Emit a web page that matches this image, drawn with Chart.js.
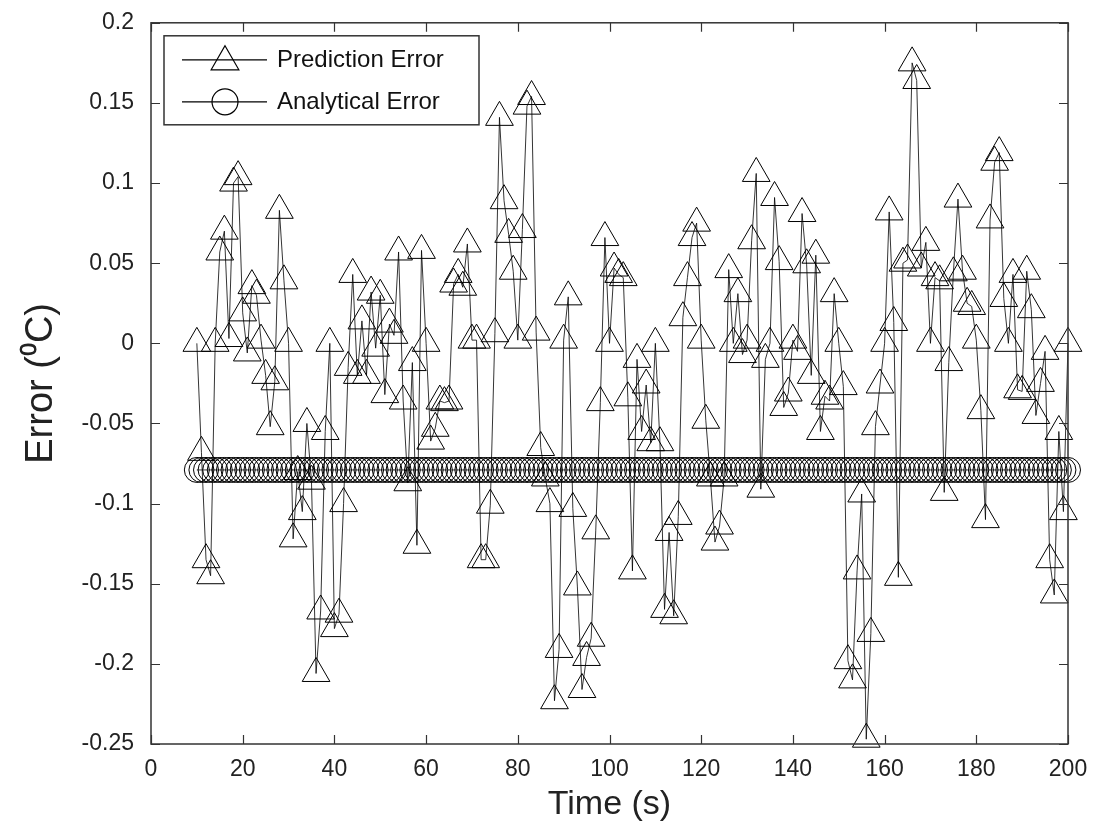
<!DOCTYPE html>
<html lang="en">
<head>
  <meta charset="UTF-8">
  <title>Prediction Error vs Analytical Error</title>
  <script src="https://cdn.jsdelivr.net/npm/chart.js"></script>
  <style>
    html, body { margin: 0; padding: 0; background: #fff; }
    #wrap { width: 1099px; height: 832px; }
  </style>
</head>
<body>
  <div id="wrap"><canvas id="grafik" width="1099" height="832"></canvas></div>

  <script>
    // time stamps (s)
    const times = [
      10, 11, 12, 13, 14, 15, 16, 17, 18, 19,
      20, 21, 22, 23, 24, 25, 26, 27, 28, 29,
      30, 31, 32, 33, 34, 35, 36, 37, 38, 39,
      40, 41, 42, 43, 44, 45, 46, 47, 48, 49,
      50, 51, 52, 53, 54, 55, 56, 57, 58, 59,
      60, 61, 62, 63, 64, 65, 66, 67, 68, 69,
      70, 71, 72, 73, 74, 75, 76, 77, 78, 79,
      80, 81, 82, 83, 84, 85, 86, 87, 88, 89,
      90, 91, 92, 93, 94, 95, 96, 97, 98, 99,
      100, 101, 102, 103, 104, 105, 106, 107, 108, 109,
      110, 111, 112, 113, 114, 115, 116, 117, 118, 119,
      120, 121, 122, 123, 124, 125, 126, 127, 128, 129,
      130, 131, 132, 133, 134, 135, 136, 137, 138, 139,
      140, 141, 142, 143, 144, 145, 146, 147, 148, 149,
      150, 151, 152, 153, 154, 155, 156, 157, 158, 159,
      160, 161, 162, 163, 164, 165, 166, 167, 168, 169,
      170, 171, 172, 173, 174, 175, 176, 177, 178, 179,
      180, 181, 182, 183, 184, 185, 186, 187, 188, 189,
      190, 191, 192, 193, 194, 195, 196, 197, 198, 199,
      200
    ];

    const predictionError = [
      0, -0.068, -0.135, -0.145, 0, 0.057, 0.07, 0.003, 0.1, 0.104,
      0.019, -0.006, 0.036, 0.03, 0.002, -0.02, -0.052, -0.024, 0.083, 0.039,
      0, -0.122, -0.08, -0.105, -0.05, -0.086, -0.206, -0.167, -0.055, 0,
      -0.178, -0.169, -0.1, -0.015, 0.043, -0.02, 0.014, -0.02, 0.032, -0.003,
      0.03, -0.032, 0.012, 0.005, 0.057, -0.036, -0.087, -0.012, -0.126, 0.058,
      0, -0.061, -0.053, -0.036, -0.037, -0.036, 0.037, 0.043, 0.035, 0.062,
      0.002, 0.002, -0.135, -0.135, -0.101, 0.006, 0.141, 0.089, 0.068, 0.045,
      0.002, 0.071, 0.148, 0.154, 0.007, -0.065, -0.084, -0.1, -0.223, -0.191,
      0.002, 0.029, -0.103, -0.152, -0.216, -0.196, -0.184, -0.117, -0.037, 0.066,
      0, 0.047, 0.043, 0.041, -0.034, -0.142, -0.01, -0.055, -0.026, -0.062,
      0, -0.062, -0.166, -0.118, -0.17, -0.108, 0.016, 0.041, 0.066, 0.075,
      0.002, -0.048, -0.084, -0.124, -0.114, -0.084, 0.046, 0, 0.031, -0.007,
      0.002, 0.064, 0.106, -0.091, -0.01, 0, 0.091, 0.051, -0.04, -0.031,
      0.002, -0.005, 0.081, 0.049, -0.02, 0.055, -0.055, -0.033, -0.036, 0.031,
      0, -0.027, -0.198, -0.21, -0.142, -0.094, -0.247, -0.181, -0.052, -0.026,
      0, 0.082, 0.013, -0.146, 0.05, 0.052, 0.175, 0.164, 0.047, 0.063,
      0, 0.041, 0.039, -0.093, -0.012, 0.044, 0.09, 0.045, 0.025, 0.023,
      0.002, -0.042, -0.11, 0.077, 0.113, 0.119, 0.028, 0, 0.043, -0.029,
      -0.03, 0.045, 0.021, -0.045, -0.025, -0.005, -0.135, -0.157, -0.055, -0.105,
      0
    ];

    const analyticalError = [
      -0.079, -0.079, -0.079, -0.079, -0.079, -0.079, -0.079, -0.079, -0.079, -0.079,
      -0.079, -0.079, -0.079, -0.079, -0.079, -0.079, -0.079, -0.079, -0.079, -0.079,
      -0.079, -0.079, -0.079, -0.079, -0.079, -0.079, -0.079, -0.079, -0.079, -0.079,
      -0.079, -0.079, -0.079, -0.079, -0.079, -0.079, -0.079, -0.079, -0.079, -0.079,
      -0.079, -0.079, -0.079, -0.079, -0.079, -0.079, -0.079, -0.079, -0.079, -0.079,
      -0.079, -0.079, -0.079, -0.079, -0.079, -0.079, -0.079, -0.079, -0.079, -0.079,
      -0.079, -0.079, -0.079, -0.079, -0.079, -0.079, -0.079, -0.079, -0.079, -0.079,
      -0.079, -0.079, -0.079, -0.079, -0.079, -0.079, -0.079, -0.079, -0.079, -0.079,
      -0.079, -0.079, -0.079, -0.079, -0.079, -0.079, -0.079, -0.079, -0.079, -0.079,
      -0.079, -0.079, -0.079, -0.079, -0.079, -0.079, -0.079, -0.079, -0.079, -0.079,
      -0.079, -0.079, -0.079, -0.079, -0.079, -0.079, -0.079, -0.079, -0.079, -0.079,
      -0.079, -0.079, -0.079, -0.079, -0.079, -0.079, -0.079, -0.079, -0.079, -0.079,
      -0.079, -0.079, -0.079, -0.079, -0.079, -0.079, -0.079, -0.079, -0.079, -0.079,
      -0.079, -0.079, -0.079, -0.079, -0.079, -0.079, -0.079, -0.079, -0.079, -0.079,
      -0.079, -0.079, -0.079, -0.079, -0.079, -0.079, -0.079, -0.079, -0.079, -0.079,
      -0.079, -0.079, -0.079, -0.079, -0.079, -0.079, -0.079, -0.079, -0.079, -0.079,
      -0.079, -0.079, -0.079, -0.079, -0.079, -0.079, -0.079, -0.079, -0.079, -0.079,
      -0.079, -0.079, -0.079, -0.079, -0.079, -0.079, -0.079, -0.079, -0.079, -0.079,
      -0.079, -0.079, -0.079, -0.079, -0.079, -0.079, -0.079, -0.079, -0.079, -0.079,
      -0.079
    ];

    const xTicks = [0, 20, 40, 60, 80, 100, 120, 140, 160, 180, 200];
    const xTickLabels = ['0', '20', '40', '60', '80', '100', '120', '140', '160', '180', '200'];
    const yTicks = [-0.25, -0.2, -0.15, -0.1, -0.05, 0, 0.05, 0.1, 0.15, 0.2];
    const yTickLabels = ['-0.25', '-0.2', '-0.15', '-0.1', '-0.05', '0', '0.05', '0.1', '0.15', '0.2'];

    const FONT = '"Liberation Sans", Arial, Helvetica, sans-serif';
    const INK = '#000';

    function toPoints(values) {
      return values.map((v, i) => ({ x: times[i], y: v }));
    }

    function marker(ctx, style, x, y, r) {
      ctx.beginPath();
      if (style === 'triangle') {
        ctx.moveTo(x, y - r);
        ctx.lineTo(x + r * Math.sin(Math.PI * 2 / 3), y + r / 2);
        ctx.lineTo(x - r * Math.sin(Math.PI * 2 / 3), y + r / 2);
        ctx.closePath();
      } else {
        ctx.arc(x, y, r, 0, Math.PI * 2);
      }
      ctx.stroke();
    }

    // box round the plot with inward tick marks on all four sides
    const boxTicks = {
      id: 'boxTicks',
      afterDraw(chart) {
        const { ctx, chartArea: a, scales: { x, y } } = chart;
        const len = 9;
        ctx.save();
        ctx.strokeStyle = '#333';
        ctx.lineWidth = 1.5;
        ctx.strokeRect(a.left, a.top, a.right - a.left, a.bottom - a.top);
        ctx.lineWidth = 1.2;
        ctx.beginPath();
        xTicks.forEach(v => {
          const px = Math.round(x.getPixelForValue(v)) + 0.5;
          ctx.moveTo(px, a.bottom); ctx.lineTo(px, a.bottom - len);
          ctx.moveTo(px, a.top); ctx.lineTo(px, a.top + len);
        });
        yTicks.forEach(v => {
          const py = Math.round(y.getPixelForValue(v)) + 0.5;
          ctx.moveTo(a.left, py); ctx.lineTo(a.left + len, py);
          ctx.moveTo(a.right, py); ctx.lineTo(a.right - len, py);
        });
        ctx.stroke();
        ctx.restore();
      }
    };

    // MATLAB style legend: line with the marker in the middle
    const boxLegend = {
      id: 'boxLegend',
      afterDraw(chart) {
        const { ctx, chartArea: a } = chart;
        const left = a.left + 13, top = a.top + 13, w = 315, h = 89;
        ctx.save();
        ctx.fillStyle = '#fff';
        ctx.fillRect(left, top, w, h);
        ctx.strokeStyle = '#333';
        ctx.lineWidth = 1.5;
        ctx.strokeRect(left, top, w, h);
        chart.data.datasets.forEach((ds, i) => {
          const yy = top + 24 + i * 42;
          ctx.strokeStyle = INK;
          ctx.lineWidth = 1.2;
          ctx.beginPath();
          ctx.moveTo(left + 18, yy); ctx.lineTo(left + 103, yy);
          ctx.stroke();
          marker(ctx, ds.pointStyle, left + 61, yy + (ds.pointStyle === 'triangle' ? 2 : 0), ds.pointStyle === 'triangle' ? 16 : 13);
          ctx.fillStyle = '#111';
          ctx.font = '24px ' + FONT;
          ctx.textBaseline = 'middle';
          ctx.fillText(ds.label, left + 113, yy + 1);
        });
        ctx.restore();
      }
    };

    new Chart(document.getElementById('grafik'), {
      type: 'line',
      data: {
        datasets: [
          {
            label: 'Prediction Error',
            data: toPoints(predictionError),
            borderColor: INK,
            borderWidth: 0.8,
            pointStyle: 'triangle',
            pointRadius: 16,
            pointBorderColor: INK,
            pointBorderWidth: 1,
            pointBackgroundColor: 'rgba(0,0,0,0)',
            tension: 0,
            clip: false,
            order: 2
          },
          {
            label: 'Analytical Error',
            data: toPoints(analyticalError),
            borderColor: INK,
            borderWidth: 0.8,
            pointStyle: 'circle',
            pointRadius: 12.5,
            pointBorderColor: INK,
            pointBorderWidth: 1,
            pointBackgroundColor: 'rgba(0,0,0,0)',
            tension: 0,
            clip: false,
            order: 1
          }
        ]
      },
      options: {
        responsive: false,
        animation: false,
        layout: { padding: { left: 0, top: 22, right: 31, bottom: 0 } },
        plugins: {
          legend: { display: false },
          tooltip: { enabled: false }
        },
        scales: {
          x: {
            type: 'linear',
            min: 0,
            max: 200,
            afterFit: s => { s.height = 88; },
            afterBuildTicks: s => { s.ticks = xTicks.map(v => ({ value: v })); },
            grid: { display: false },
            border: { display: false },
            ticks: {
              padding: 4,
              color: '#222',
              font: { family: FONT, size: 23 },
              maxRotation: 0,
              callback: (v, i) => xTickLabels[i]
            },
            title: {
              display: true,
              text: 'Time (s)',
              color: '#222',
              font: { family: FONT, size: 34 },
              padding: { top: 0, bottom: 7 }
            }
          },
          y: {
            type: 'linear',
            min: -0.25,
            max: 0.2,
            afterFit: s => { s.width = 151; },
            afterBuildTicks: s => { s.ticks = yTicks.map(v => ({ value: v })); },
            grid: { display: false },
            border: { display: false },
            ticks: {
              padding: 9,
              color: '#222',
              font: { family: FONT, size: 23 },
              callback: (v, i) => yTickLabels[i]
            },
            title: {
              display: true,
              text: 'Error (⁰C)',
              color: '#222',
              font: { family: FONT, size: 38 },
              padding: { top: 19, bottom: 0 }
            }
          }
        }
      },
      plugins: [boxTicks, boxLegend]
    });
  </script>
</body>
</html>
